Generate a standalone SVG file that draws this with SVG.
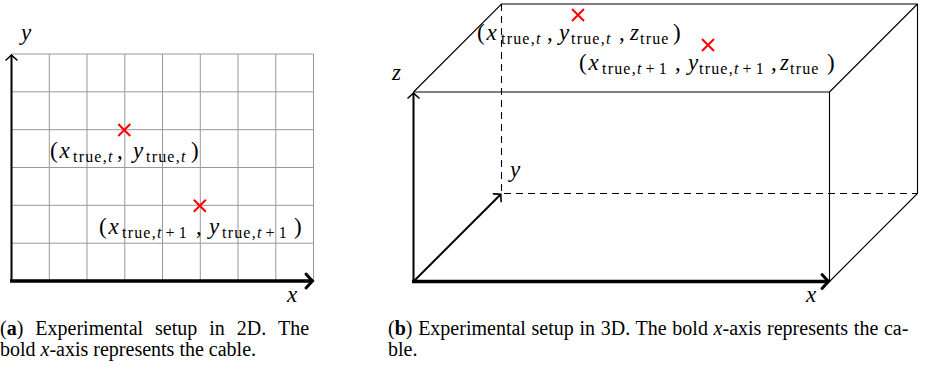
<svg xmlns="http://www.w3.org/2000/svg" width="925" height="369" viewBox="0 0 925 369">
<style>
.bg{fill:#fff}
.grid{stroke:#999;stroke-width:1;fill:none}
.edge{stroke:#000;stroke-width:1.1;fill:none}
.dash{stroke:#000;stroke-width:1.1;fill:none;stroke-dasharray:7,5}
.ax{stroke:#000;stroke-width:2;fill:none}
.axb{stroke:#000;stroke-width:3.6;fill:none}
.cross{stroke:#f00;stroke-width:2;fill:none}
.m{font-family:"Liberation Serif","Times New Roman",serif;font-size:23px;fill:#000}
.i{font-style:italic}
.s{font-size:16px;letter-spacing:1.2px}
.cap{font-family:"Liberation Serif","Times New Roman",serif;font-size:20px;fill:#000}
.b{font-weight:bold}
</style>
<defs>
<marker id="arr" markerUnits="userSpaceOnUse" orient="auto" refX="0" refY="0" markerWidth="20" markerHeight="20" overflow="visible">
<path d="M -5,-5.5 Q -1.5,-1.5 0,0 Q -1.5,1.5 -5,5.5" stroke="#000" stroke-width="1.6" fill="none" stroke-linecap="round"/>
</marker>
<marker id="arrb" markerUnits="userSpaceOnUse" orient="auto" refX="0" refY="0" markerWidth="24" markerHeight="24" overflow="visible">
<path d="M -6.5,-7 Q -2,-2 0,0 Q -2,2 -6.5,7" stroke="#000" stroke-width="3" fill="none" stroke-linecap="round"/>
</marker>
</defs>
<rect class="bg" x="0" y="0" width="925" height="369"/>

<g id="panel-a">
<g id="grid-2d">
<path class="grid" d="M11.5,54 H313.5 M11.5,91.8 H313.5 M11.5,129.7 H313.5 M11.5,167.5 H313.5 M11.5,205.3 H313.5 M11.5,243.2 H313.5 M49.3,54 V281 M87,54 V281 M124.8,54 V281 M162.5,54 V281 M200.3,54 V281 M238,54 V281 M275.8,54 V281 M313.5,54 V281"/>
</g>
<g id="connectors-2d">
<line class="ax" x1="11.5" y1="282" x2="11.5" y2="55" marker-end="url(#arr)"/>
<line class="axb" x1="10" y1="281" x2="312.5" y2="281" marker-end="url(#arrb)"/>
</g>
<g id="p2d-1">
<path class="cross" d="M118.3,124 L130.3,136 M130.3,124 L118.3,136"/>
<text class="m"><tspan x="50" y="158">(</tspan><tspan class="i" x="59.5" y="158">x</tspan><tspan class="s" x="73" y="162">true,<tspan class="i">t</tspan></tspan><tspan x="117" y="158">,</tspan><tspan class="i" x="133" y="158">y</tspan><tspan class="s" x="146" y="162">true,<tspan class="i">t</tspan></tspan><tspan x="191" y="158">)</tspan></text>
</g>
<g id="p2d-2">
<path class="cross" d="M193.8,199.7 L205.8,211.7 M205.8,199.7 L193.8,211.7"/>
<text class="m"><tspan x="99" y="234">(</tspan><tspan class="i" x="108.5" y="234">x</tspan><tspan class="s" x="122" y="238">true,<tspan class="i">t</tspan><tspan dx="3">+</tspan><tspan dx="3">1</tspan></tspan><tspan x="196" y="234">,</tspan><tspan class="i" x="209" y="234">y</tspan><tspan class="s" x="222" y="238">true,<tspan class="i">t</tspan><tspan dx="3">+</tspan><tspan dx="3">1</tspan></tspan><tspan x="294" y="234">)</tspan></text>
</g>
<g id="label-y-2d"><text class="m i" x="21" y="40">y</text></g>
<g id="label-x-2d"><text class="m i" x="287" y="302">x</text></g>
</g>

<g id="panel-b">
<g id="box">
<path class="edge" d="M413.5,92 H829.5 V281.5 M413.5,92 L501.5,4 H917.5 V193.5 L829.5,281.5 M829.5,92 L917.5,4"/>
<path class="dash" d="M501.5,4 V193.5 H917.5"/>
</g>
<g id="connectors-3d">
<line class="ax" x1="413.5" y1="282.5" x2="413.5" y2="93" marker-end="url(#arr)"/>
<line class="ax" x1="413.5" y1="281.5" x2="500.8" y2="194.2" marker-end="url(#arr)"/>
<line class="axb" x1="412" y1="281.5" x2="828.5" y2="281.5" marker-end="url(#arrb)"/>
</g>
<g id="p3d-1">
<path class="cross" d="M572,9 L584,21 M584,9 L572,21"/>
<text class="m"><tspan x="477" y="40">(</tspan><tspan class="i" x="486.5" y="40">x</tspan><tspan class="s" x="501" y="44">true,<tspan class="i">t</tspan></tspan><tspan x="547" y="40">,</tspan><tspan class="i" x="559" y="40">y</tspan><tspan class="s" x="571" y="44">true,<tspan class="i">t</tspan></tspan><tspan x="619" y="40">,</tspan><tspan class="i" x="630" y="40">z</tspan><tspan class="s" x="640" y="44">true</tspan><tspan x="673" y="40">)</tspan></text>
</g>
<g id="p3d-2">
<path class="cross" d="M702,39 L714,51 M714,39 L702,51"/>
<text class="m"><tspan x="579" y="70">(</tspan><tspan class="i" x="588.5" y="70">x</tspan><tspan class="s" x="602" y="74">true,<tspan class="i">t</tspan><tspan dx="3">+</tspan><tspan dx="3">1</tspan></tspan><tspan x="675" y="70">,</tspan><tspan class="i" x="688" y="70">y</tspan><tspan class="s" x="699" y="74">true,<tspan class="i">t</tspan><tspan dx="3">+</tspan><tspan dx="3">1</tspan></tspan><tspan x="771" y="70">,</tspan><tspan class="i" x="780" y="70">z</tspan><tspan class="s" x="790" y="74">true</tspan><tspan x="827" y="70">)</tspan></text>
</g>
<g id="label-z-3d"><text class="m i" x="392" y="80">z</text></g>
<g id="label-y-3d"><text class="m i" x="510" y="177">y</text></g>
<g id="label-x-3d"><text class="m i" x="806" y="302">x</text></g>
</g>

<g id="captions">
<text class="cap" x="0" y="335" word-spacing="7">(<tspan class="b">a</tspan>) Experimental setup in 2D. The</text>
<text class="cap" x="0" y="356">bold <tspan class="i">x</tspan>-axis represents the cable.</text>
<text class="cap" x="388" y="335" word-spacing="0.7">(<tspan class="b">b</tspan>) Experimental setup in 3D. The bold <tspan class="i">x</tspan>-axis represents the ca-</text>
<text class="cap" x="388" y="356">ble.</text>
</g>
</svg>
